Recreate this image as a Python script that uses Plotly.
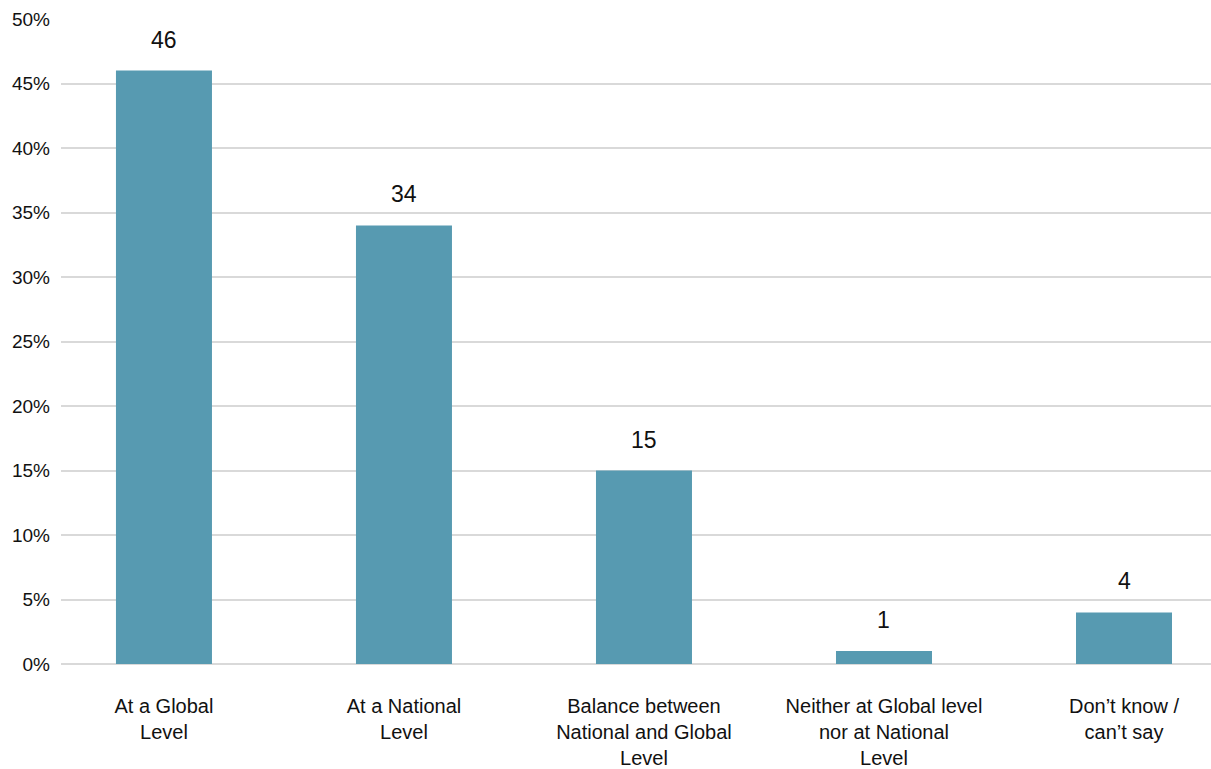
import plotly.graph_objects as go

categories = [
    "At a Global<br>Level",
    "At a National<br>Level",
    "Balance between<br>National and Global<br>Level",
    "Neither at Global level<br>nor at National<br>Level",
    "Don’t know /<br>can’t say",
]
values = [46, 34, 15, 1, 4]
y_ticks = [0, 5, 10, 15, 20, 25, 30, 35, 40, 45, 50]
y_tick_labels = [f"{t}%" for t in y_ticks]

bar_color = "#579AB1"
font_family = "Liberation Sans, Arial, Helvetica, sans-serif"

fig = go.Figure()
fig.add_trace(go.Bar(
    x=list(range(len(categories))),
    y=values,
    width=0.4,
    marker=dict(color=bar_color, line=dict(width=0)),
    hoverinfo="skip",
))

for i, v in enumerate(values):
    fig.add_annotation(
        x=i, y=v, text=str(v), showarrow=False,
        yanchor="bottom", yshift=16,
        font=dict(size=23, color="#111111", family=font_family),
    )

fig.update_layout(
    width=1211, height=769,
    margin=dict(l=61, r=0, t=19, b=105),
    paper_bgcolor="white", plot_bgcolor="white",
    showlegend=False,
    font=dict(family=font_family, color="#111111"),
    xaxis=dict(
        range=[-0.429, 4.3625],
        tickmode="array",
        tickvals=list(range(len(categories))),
        ticktext=categories,
        tickfont=dict(size=20),
        showgrid=False, zeroline=False, showline=False,
        ticks="", ticklabelstandoff=28,
    ),
    yaxis=dict(
        range=[0, 50],
        tickmode="array",
        tickvals=y_ticks,
        ticktext=y_tick_labels,
        tickfont=dict(size=19),
        showgrid=True, gridcolor="#D9D9D9", gridwidth=1.5,
        zeroline=True, zerolinecolor="#D9D9D9", zerolinewidth=1.5,
        showline=False, ticks="", ticklabelstandoff=10,
    ),
)

fig.write_html("out.html")
